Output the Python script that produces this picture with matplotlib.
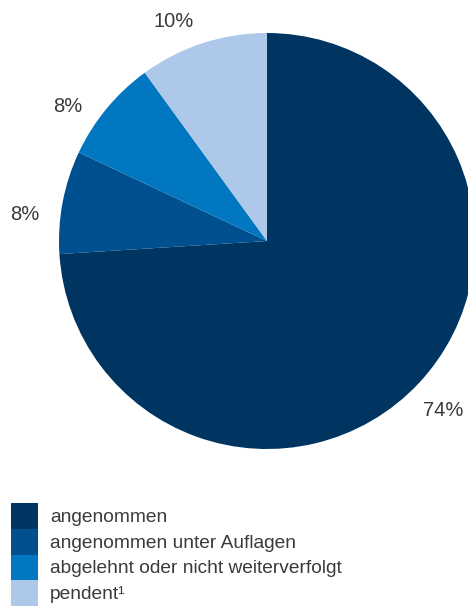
import matplotlib
matplotlib.use("Agg")
import matplotlib.pyplot as plt
from matplotlib.patches import Rectangle

plt.rcParams["font.family"] = ["Liberation Sans", "DejaVu Sans"]

# data
categories = ["angenommen", "angenommen unter Auflagen",
              "abgelehnt oder nicht weiterverfolgt", "pendent\u00b9"]
shares = [74, 8, 8, 10]
pct_labels = ["74%", "8%", "8%", "10%"]
colors = ["#003562", "#004f8f", "#0077c0", "#adc8e8"]

W, H = 468, 606
fig = plt.figure(figsize=(W / 100, H / 100), dpi=100)
ax = fig.add_axes([0, 0, 1, 1])

cx, cy, r = 267, H - 241, 208
wedges, texts = ax.pie(shares, colors=colors, startangle=90, counterclock=False,
                       center=(cx, cy), radius=r, labels=pct_labels,
                       labeldistance=1.16, frame=True,
                       wedgeprops=dict(linewidth=0),
                       textprops=dict(fontsize=14.5, color="#3a3a3a"))
ax.set_xlim(0, W)
ax.set_ylim(0, H)
ax.set_aspect("equal")
ax.axis("off")

# nudge labels toward where the original puts them
offsets = [(0, -4), (-5, -19), (-13, -19), (-19, -10)]
for t, (dx, dy) in zip(texts, offsets):
    x, y = t.get_position()
    t.set_position((x + dx, y + dy))
    t.set_ha("center")
    t.set_va("center")

# legend
row_h = 25.6
top = H - 503.3
for i, (name, col) in enumerate(zip(categories, colors)):
    y0 = top - (i + 1) * row_h
    ax.add_patch(Rectangle((11, y0), 27, row_h, color=col, lw=0))
    ax.text(50, y0 + row_h / 2 - 6, name, fontsize=13.8, color="#3a3a3a",
            va="baseline", ha="left")

fig.savefig("out.png", dpi=100)
